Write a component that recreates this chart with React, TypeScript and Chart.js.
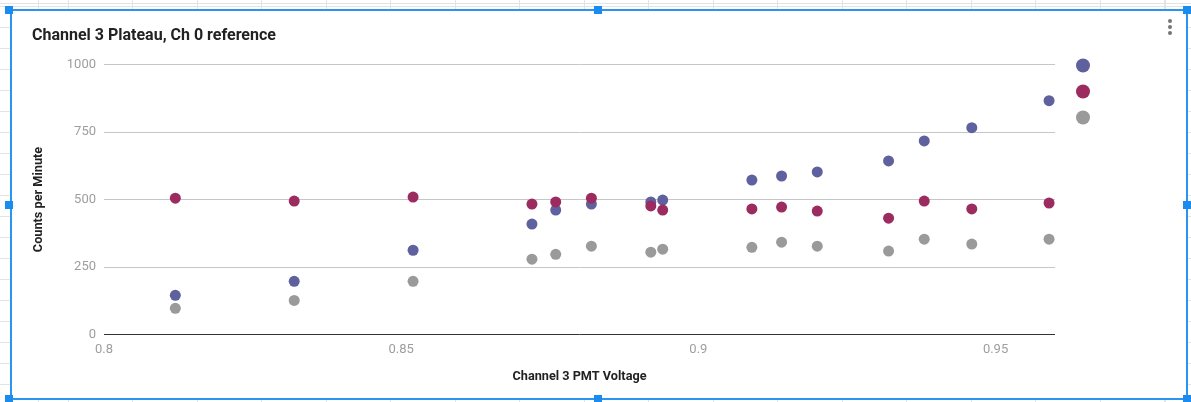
import React, { useEffect, useRef } from "react";
import { Chart, registerables } from "chart.js";

Chart.register(...registerables);

// ---- data ----
const voltages = [0.812, 0.832, 0.852, 0.872, 0.876, 0.882, 0.892, 0.894, 0.909, 0.914, 0.92, 0.932, 0.938, 0.946, 0.959];
const ch3Counts = [145, 197, 312, 409, 461, 483, 491, 498, 572, 587, 602, 643, 717, 766, 866];
const ch0Counts = [505, 494, 509, 483, 491, 505, 476, 461, 465, 472, 457, 431, 494, 465, 487];
const coincidenceCounts = [97, 126, 197, 279, 297, 327, 305, 316, 323, 342, 327, 309, 353, 335, 353];
const seriesNames = ["Channel 3", "Channel 0", "Coincidence"];
const xTickValues = [0.8, 0.85, 0.9, 0.95];
const yTickValues = [0, 250, 500, 750, 1000];

const chartTitle = "Channel 3 Plateau, Ch 0 reference";
const xTitle = "Channel 3 PMT Voltage";
const yTitle = "Counts per Minute";

const COLORS = ["#5e619e", "#9c2b5f", "#9a9a9a"];

const toPoints = (ys: number[]) => voltages.map((x, i) => ({ x, y: ys[i] }));

const dotLegend = {
  id: "dotLegend",
  afterDraw(chart: any) {
    const { ctx, chartArea } = chart;
    chart.data.datasets.forEach((ds: any, i: number) => {
      ctx.save();
      ctx.fillStyle = ds.backgroundColor;
      ctx.beginPath();
      ctx.arc(chartArea.right + 28, chartArea.top + 1 + i * 26, 7, 0, Math.PI * 2);
      ctx.fill();
      ctx.restore();
    });
  },
};

function ChartCanvas() {
  const ref = useRef<HTMLCanvasElement | null>(null);
  useEffect(() => {
    if (!ref.current) return;
    const font = "Roboto";
    const chart = new Chart(ref.current, {
      type: "scatter",
      data: {
        datasets: [
          { label: seriesNames[0], data: toPoints(ch3Counts), backgroundColor: COLORS[0], order: 3 },
          { label: seriesNames[1], data: toPoints(ch0Counts), backgroundColor: COLORS[1], order: 2 },
          { label: seriesNames[2], data: toPoints(coincidenceCounts), backgroundColor: COLORS[2], order: 1 },
        ].map((d) => ({
          ...d,
          borderColor: d.backgroundColor,
          pointRadius: 5.5,
          pointHoverRadius: 5.5,
          pointBorderWidth: 0,
          showLine: false,
        })),
      },
      options: {
        animation: false,
        responsive: false,
        events: [],
        layout: { padding: { left: 20, right: 131, top: 10, bottom: 13.5 } },
        plugins: {
          legend: { display: false },
          tooltip: { enabled: false },
          title: {
            display: true,
            text: chartTitle,
            align: "start",
            color: "#222222",
            font: { family: font, size: 16, weight: "bold" },
            padding: { top: 4.4, bottom: 18.9 },
          },
        },
        scales: {
          x: {
            type: "linear",
            min: 0.8,
            max: 0.96,
            grid: { display: false, drawTicks: false },
            border: { display: false },
            afterFit: (s: any) => {
              s.height = 50;
            },
            afterBuildTicks: (s: any) => {
              s.ticks = xTickValues.map((v) => ({ value: v }));
            },
            ticks: {
              padding: 7,
              color: "#9e9e9e",
              font: { family: font, size: 13 },
              maxRotation: 0,
              autoSkip: false,
              callback: (v: any) => String(v),
            },
            title: {
              display: true,
              text: xTitle,
              color: "#222222",
              font: { family: font, size: 12.7, weight: "bold" },
              padding: 0,
            },
          },
          y: {
            type: "linear",
            min: 0,
            max: 1000,
            grid: {
              drawTicks: false,
              lineWidth: 1,
              color: (c: any) => (c.tick && c.tick.value === 0 ? "#333333" : "#c6c6c6"),
            },
            border: { display: false },
            afterFit: (s: any) => {
              s.width = 72;
            },
            afterBuildTicks: (s: any) => {
              s.ticks = yTickValues.map((v) => ({ value: v }));
            },
            ticks: {
              padding: 8,
              color: "#9e9e9e",
              font: { family: font, size: 13 },
              callback: (v: any) => String(v),
            },
            title: {
              display: true,
              text: yTitle,
              color: "#222222",
              font: { family: font, size: 12.7, weight: "bold" },
              padding: { top: -1, bottom: 0 },
            },
          },
        },
      },
      plugins: [dotLegend],
    } as any);
    return () => chart.destroy();
  }, []);
  return (
    <canvas
      ref={ref}
      width={1174}
      height={386}
      style={{ position: "absolute", left: 12, top: 12, width: 1174, height: 386 }}
    />
  );
}

const handle = (left: number, top: number) => (
  <div
    key={`${left}-${top}`}
    style={{
      position: "absolute",
      left: left - 4,
      top: top - 4,
      width: 8,
      height: 8,
      background: "#1a8cf0",
    }}
  />
);

export default function App() {
  return (
    <div
      style={{
        position: "fixed",
        left: 0,
        top: 0,
        width: 1191,
        height: 402,
        overflow: "hidden",
        background: "#ffffff",
        backgroundImage:
          "repeating-linear-gradient(to right, #e3e3e3 0px, #e3e3e3 1px, transparent 1px, transparent 64.5px), repeating-linear-gradient(to bottom, #e3e3e3 0px, #e3e3e3 1px, transparent 1px, transparent 21px)",
        backgroundPosition: "68px 0px, 0px 6px",
      }}
    >
      <div
        style={{
          position: "absolute",
          left: 10,
          top: 9,
          width: 1178,
          height: 391,
          boxSizing: "border-box",
          border: "2px solid #2a95f0",
          background: "#ffffff",
        }}
      />
      <ChartCanvas />
      {[21, 27, 33].map((y) => (
        <div
          key={y}
          style={{
            position: "absolute",
            left: 1168,
            top: y - 2,
            width: 4,
            height: 4,
            borderRadius: 2,
            background: "#757575",
          }}
        />
      ))}
      {handle(9, 10)}
      {handle(598, 10)}
      {handle(1187, 10)}
      {handle(9, 205)}
      {handle(1187, 205)}
      {handle(9, 399)}
      {handle(598, 399)}
      {handle(1187, 399)}
    </div>
  );
}
